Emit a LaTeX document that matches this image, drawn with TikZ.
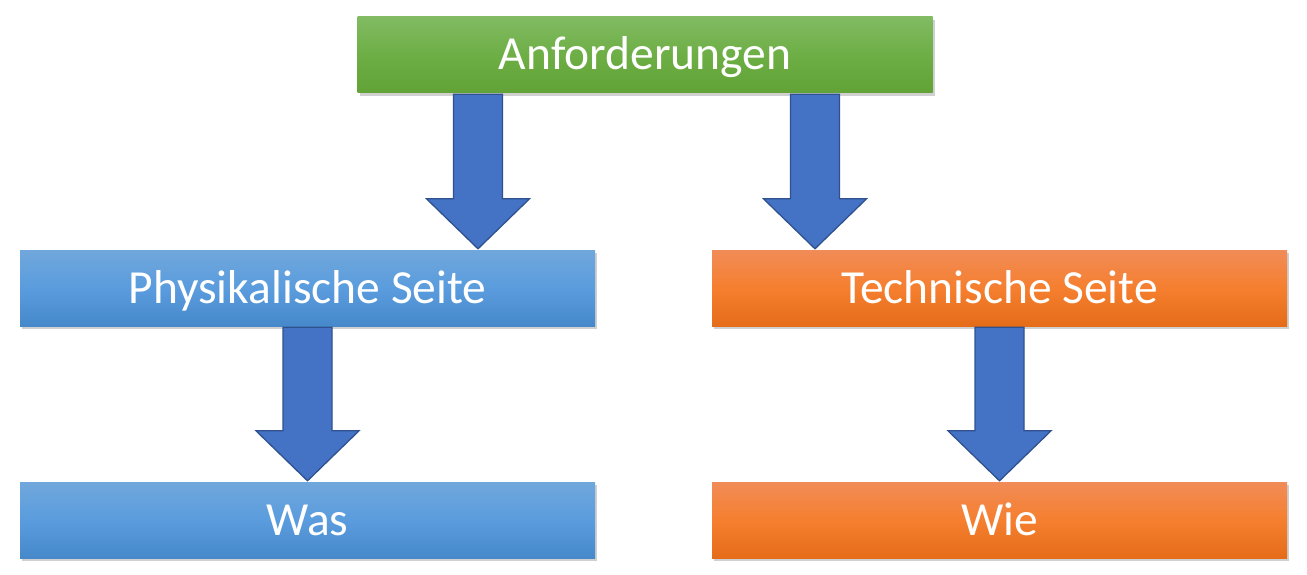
\documentclass[tikz,border=0pt]{standalone}
\usepackage{fontspec}
\setmainfont{Carlito}
\usetikzlibrary{shadows,calc}
\definecolor{gtop}{HTML}{82BB63}
\definecolor{gmid}{HTML}{6DAE45}
\definecolor{gbot}{HTML}{62A337}
\definecolor{btop}{HTML}{70A7DC}
\definecolor{bmid}{HTML}{5A9CDD}
\definecolor{bbot}{HTML}{4689CB}
\definecolor{otop}{HTML}{F18C57}
\definecolor{omid}{HTML}{F57F2F}
\definecolor{obot}{HTML}{E56C19}
\definecolor{arrowfill}{HTML}{4472C4}
\definecolor{arrowdraw}{HTML}{2F528F}
\tikzset{
  box/.style={rectangle, minimum width=575pt, minimum height=76pt, inner sep=0pt,
    text height=36pt, text depth=6pt,
    text=white, font=\fontsize{47.5}{56}\selectfont,
    drop shadow={shadow xshift=2pt, shadow yshift=-3pt, opacity=0.3, fill=black!60}},
  greenbox/.style={box, top color=gtop, bottom color=gbot, middle color=gmid},
  bluebox/.style={box, top color=btop, bottom color=bbot, middle color=bmid},
  orangebox/.style={box, top color=otop, bottom color=obot, middle color=omid},
  blockarr/.style={fill=arrowfill, draw=arrowdraw, line width=1.3pt, line join=miter}
}
\newcommand\blockarrow[2]{%
  \path[blockarr] let \p1=(#1), \p2=(#2) in
    (\x2-24.5pt,\y1) -- (\x2+24.5pt,\y1) -- (\x2+24.5pt,\y2+50pt) -- (\x2+51.5pt,\y2+50pt)
    -- (\x2,\y2) -- (\x2-51.5pt,\y2+50pt) -- (\x2-24.5pt,\y2+50pt) -- cycle;}
\begin{document}
\begin{tikzpicture}[x=1pt,y=-1pt]
\useasboundingbox[fill=white] (0,0) rectangle (1307,575);
\node[greenbox] (anf) at (645,55) {Anforderungen};
\node[bluebox] (phys) at (307.5,288) {Physikalische Seite};
\node[orangebox] (tech) at (999.5,288) {Technische Seite};
\node[bluebox] (was) at (307.5,520) {Was};
\node[orangebox] (wie) at (999.5,520) {Wie};
\coordinate (a1s) at ([xshift=121pt,yshift=-1pt]anf.south west);
\coordinate (a1e) at ([xshift=170.5pt,yshift=1pt]phys.north);
\coordinate (a2s) at ([xshift=-117pt,yshift=-1pt]anf.south east);
\coordinate (a2e) at ([xshift=-184.5pt,yshift=1pt]tech.north);
\coordinate (a3s) at ([yshift=-1pt]phys.south);
\coordinate (a3e) at ([yshift=1pt]was.north);
\coordinate (a4s) at ([yshift=-1pt]tech.south);
\coordinate (a4e) at ([yshift=1pt]wie.north);
\blockarrow{a1s}{a1e}
\blockarrow{a2s}{a2e}
\blockarrow{a3s}{a3e}
\blockarrow{a4s}{a4e}
\end{tikzpicture}
\end{document}
